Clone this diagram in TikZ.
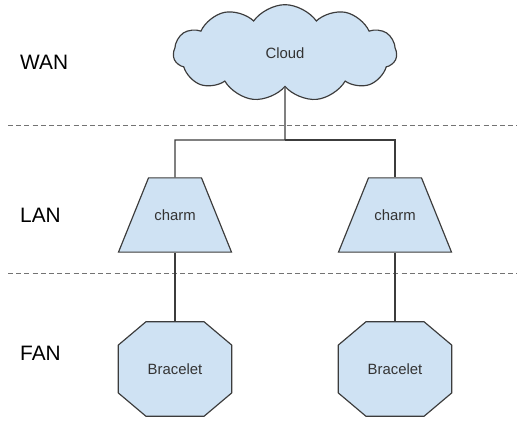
\documentclass[tikz,border=0pt]{standalone}
\usepackage{fontspec}
\setmainfont{Liberation Sans}
\usetikzlibrary{shapes.symbols,shapes.geometric,backgrounds}
\definecolor{boxfill}{HTML}{CFE2F3}
\definecolor{boxline}{HTML}{3C3C3C}
\begin{document}
\begin{tikzpicture}[
  x=0.03cm, y=-0.03cm,
  every node/.style={font=\fontsize{12.7}{15}\selectfont,text=black!80,align=center},
  zone/.style={font=\fontsize{17.8}{21}\selectfont,text=black,anchor=west,inner sep=0pt},
  border/.style={draw=black!55,dash pattern=on 4.2pt off 2.8pt,line width=0.8pt},
  wire/.style={draw=boxline,line width=1pt},
  shade/.style={draw=boxline,fill=boxfill,line width=1pt},
  cloudbox/.style={cloud,cloud puffs=11,cloud puff arc=110,cloud ignores aspect,
    minimum width=6.7cm,minimum height=2.9cm,shade},
  charmbox/.style={trapezium,trapezium left angle=68,trapezium right angle=68,
    trapezium stretches body,minimum width=3.39cm,inner ysep=0.95cm,shade},
  bracebox/.style={rectangle,minimum width=3.39cm,minimum height=2.82cm,inner sep=0pt}
]
\useasboundingbox (0,0) rectangle (517,421);
% zones
\node[zone] (wan) at (20,62) {WAN};
\node[zone] (lan) at (20,215) {LAN};
\node[zone] (fan) at (20,353) {FAN};
\draw[border] (8,125) -- (517,125);
\draw[border] (8,273) -- (517,273);
% devices
\node[cloudbox] (cloud) at (285,53) {Cloud};
\node[charmbox] (charmA) at (175,215) {charm};
\node[charmbox] (charmB) at (395,215) {charm};
\node[bracebox] (braceA) at (175,369) {Bracelet};
\node[bracebox] (braceB) at (395,369) {Bracelet};
\begin{scope}[on background layer]
  \foreach \b in {braceA,braceB}
    \draw[shade] ([xshift=0.83cm]\b.north west) -- ([xshift=-0.83cm]\b.north east)
      -- ([yshift=-0.7cm]\b.north east) -- ([yshift=0.7cm]\b.south east)
      -- ([xshift=-0.83cm]\b.south east) -- ([xshift=0.83cm]\b.south west)
      -- ([yshift=0.7cm]\b.south west) -- ([yshift=-0.7cm]\b.north west) -- cycle;
\end{scope}
\coordinate (fork) at (285,140);
% links
\draw[wire] (cloud.south) -- (fork) -| (charmA.top side);
\draw[wire] (fork) -| (charmB.top side);
\draw[wire] (charmA.bottom side) -- (braceA.north);
\draw[wire] (charmB.bottom side) -- (braceB.north);
\end{tikzpicture}
\end{document}
